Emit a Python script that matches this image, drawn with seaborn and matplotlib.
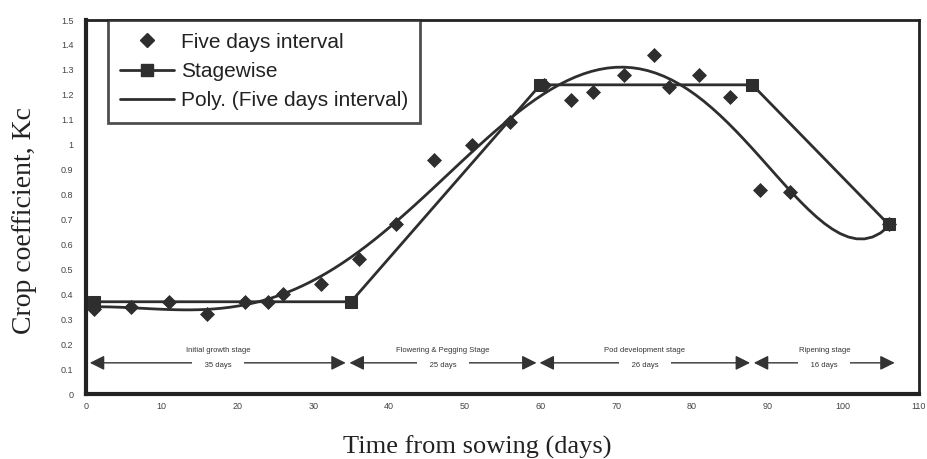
import matplotlib
matplotlib.use("Agg")
import matplotlib.pyplot as plt
from matplotlib.lines import Line2D
import pandas as pd
import seaborn as sns

# Five days interval measurements (day, Kc)
five_day_x = [1, 6, 11, 16, 21, 24, 26, 31, 36, 41, 46, 51, 56, 60.5, 64, 67, 71, 75, 77, 81, 85, 89, 93, 106]
five_day_kc = [0.34, 0.35, 0.37, 0.32, 0.37, 0.37, 0.40, 0.44, 0.54, 0.68, 0.94, 1.00, 1.09, 1.24,
               1.18, 1.21, 1.28, 1.36, 1.23, 1.28, 1.19, 0.82, 0.81, 0.68]

# Stagewise Kc
stage_x = [1, 35, 60, 88, 106]
stage_kc = [0.37, 0.37, 1.24, 1.24, 0.68]

# Growth stages shown with arrows
stage_names = ["Initial growth stage", "Flowering & Pegging Stage", "Pod development stage", "Ripening stage"]
stage_days = ["35 days", "25 days", "26 days", "16 days"]
stage_start = [0.5, 34.8, 59.9, 88.2]
stage_end = [34.3, 59.5, 87.7, 106.8]

x_ticks = list(range(0, 111, 10))
y_ticks = [i / 10 for i in range(0, 16)]

sns.set_style("white")
plt.rcParams["font.family"] = ["Liberation Sans", "DejaVu Sans"]

mark = "#2e2e2e"
fig = plt.figure(figsize=(9.28, 4.59), dpi=100)
ax = fig.add_axes([0.0927, 0.1416, 0.8975, 0.8148])

five_df = pd.DataFrame({"day": five_day_x, "kc": five_day_kc})
stage_df = pd.DataFrame({"day": stage_x, "kc": stage_kc})

# Polynomial trendline of the five day data
sns.regplot(data=five_df, x="day", y="kc", order=6, scatter=False, ci=None,
            line_kws={"color": mark, "linewidth": 2.0}, ax=ax)

sns.scatterplot(data=five_df, x="day", y="kc", marker="D", s=50, color=mark,
                edgecolor=mark, ax=ax, zorder=5)

sns.lineplot(data=stage_df, x="day", y="kc", color=mark, linewidth=2.0,
             marker="s", markersize=9, markeredgecolor=mark, ax=ax, zorder=6)

# Stage arrows with labels
arrow_y = 0.125
for name, days, x0, x1 in zip(stage_names, stage_days, stage_start, stage_end):
    ax.annotate("", xy=(x0, arrow_y), xytext=(x1, arrow_y),
                arrowprops=dict(arrowstyle="<|-|>", color="#333333", lw=1.0,
                                mutation_scale=22, shrinkA=0, shrinkB=0))
    mid = (x0 + x1) / 2
    ax.text(mid, arrow_y + 0.05, name, ha="center", va="center", fontsize=5.5, color="#333333")
    ax.text(mid, arrow_y - 0.012, "     " + days + "     ", ha="center", va="center",
            fontsize=5.5, color="#333333",
            bbox=dict(facecolor="white", edgecolor="none", pad=1.5))

ax.set_xlim(0, 110)
ax.set_ylim(0, 1.5)
ax.set_xticks(x_ticks)
ax.set_yticks(y_ticks)
ax.set_yticklabels([f"{v:g}" for v in y_ticks])
ax.tick_params(axis="both", length=0, labelsize=6.5, colors="#444444")
ax.tick_params(axis="y", pad=9)
ax.tick_params(axis="x", pad=6)

for side in ["left", "bottom"]:
    ax.spines[side].set_linewidth(3)
for side in ["top", "right"]:
    ax.spines[side].set_linewidth(2)
for sp in ax.spines.values():
    sp.set_color("#222222")
    sp.set_visible(True)

ax.set_xlabel("Time from sowing (days)", family="Liberation Serif", fontsize=19, color="#222222", va="top")
ax.set_ylabel("Crop coefficient, Kc", family="Liberation Serif", fontsize=20, color="#222222")
ax.xaxis.set_label_coords(0.47, -0.11)
ax.yaxis.set_label_coords(-0.059, 0.463)

handles = [
    Line2D([], [], linestyle="none", marker="D", markersize=7, color=mark),
    Line2D([], [], color=mark, linewidth=2.0, marker="s", markersize=9),
    Line2D([], [], color=mark, linewidth=2.0),
]
labels = ["Five days interval", "Stagewise", "Poly. (Five days interval)"]
leg = ax.legend(handles, labels, loc="upper left", bbox_to_anchor=(0.026, 1.0), fontsize=15,
                frameon=True, fancybox=False, handlelength=2.6, handletextpad=0.3,
                labelspacing=0.5, borderpad=0.6, borderaxespad=0)
leg.get_frame().set_edgecolor("#222222")
leg.get_frame().set_linewidth(2)
for t in leg.get_texts():
    t.set_color("#222222")

fig.savefig("out.png", dpi=100)
